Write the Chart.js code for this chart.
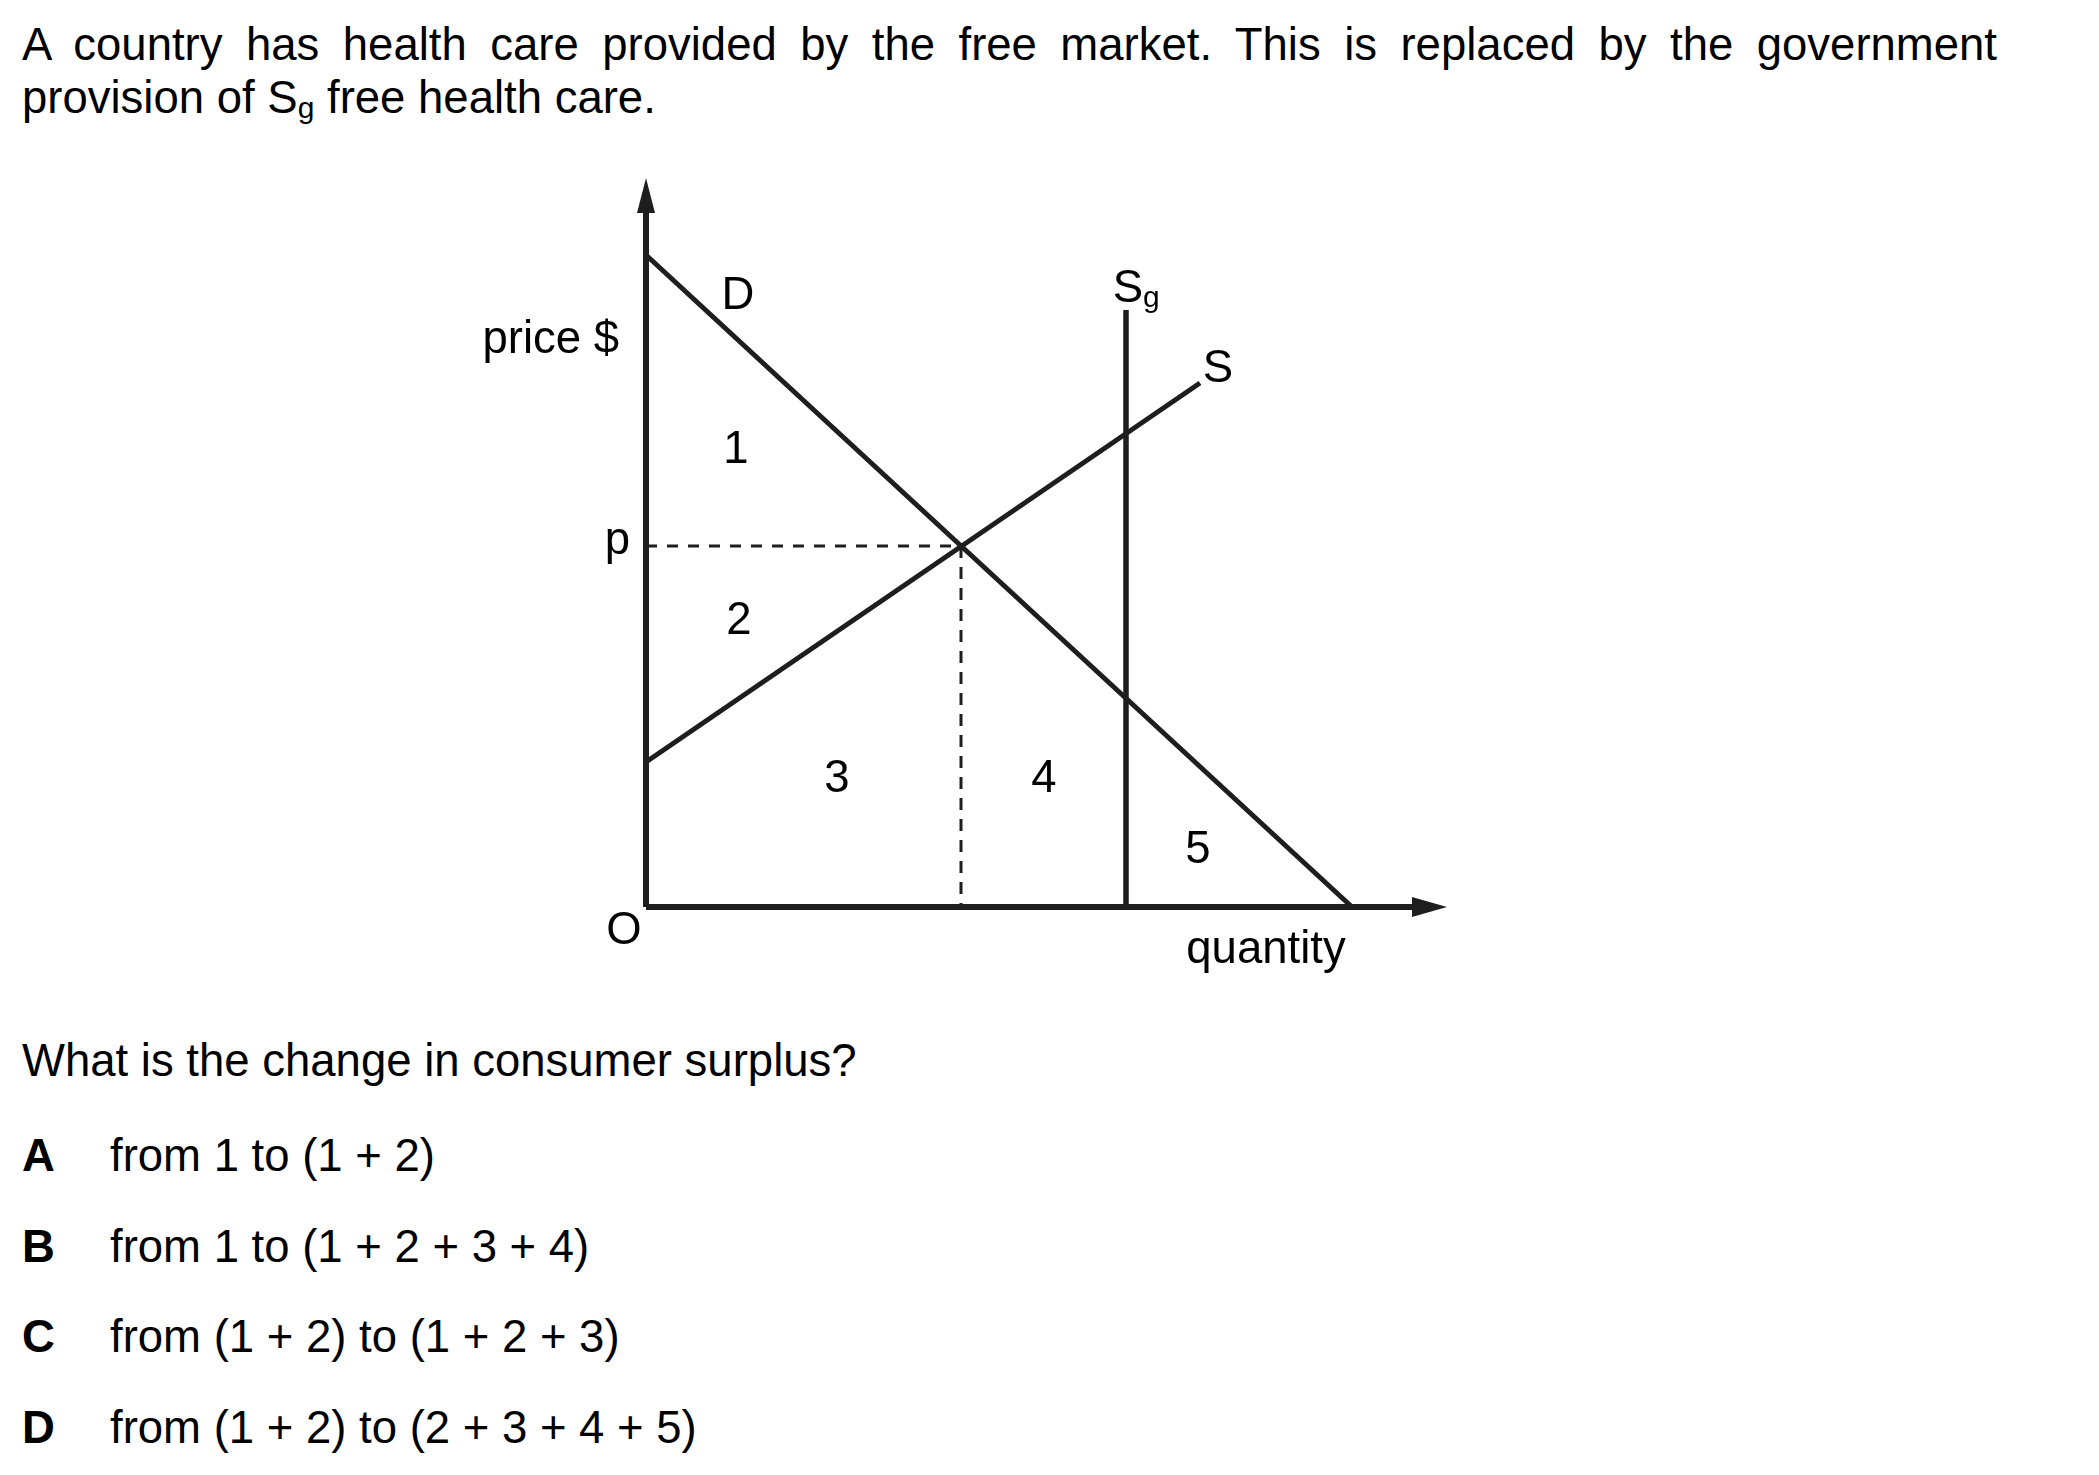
<!DOCTYPE html>
<html>
<head>
  <meta charset="UTF-8">
  <title>Consumer surplus with free health care</title>
  <script src="https://cdn.jsdelivr.net/npm/chart.js"></script>
  <style>
    body, html {
      margin: 0;
      padding: 0;
      background: #fff;
    }

    .page {
      position: relative;
      width: 2099px;
      height: 1475px;
      font-family: Arial, "Liberation Sans", Helvetica, sans-serif;
      font-size: 45.5px;
      line-height: 53px;
      color: #000;
    }

    .line {
      position: absolute;
      left: 22px;
      white-space: nowrap;
    }

    .justify {
      width: 1975px;
      text-align: justify;
      text-align-last: justify;
      white-space: normal;
    }

    .sub {
      font-size: 30px;
      position: relative;
      top: 5px;
    }

    .opt b {
      display: inline-block;
      width: 88px;
    }

    #chart-box {
      position: absolute;
      left: 440px;
      top: 150px;
      width: 1100px;
      height: 850px;
    }
  </style>
</head>
<body>
<div class="page">
  <div class="line justify" style="top:18px">A country has health care provided by the free market. This is replaced by the government</div>
  <div class="line" style="top:71px">provision of S<span class="sub">g</span> free health care.</div>

  <div id="chart-box">
    <canvas id="diagram"></canvas>
  </div>

  <div class="line" style="top:1034px">What is the change in consumer surplus?</div>
  <div class="line opt" style="top:1129px"><b>A</b>from 1 to (1 + 2)</div>
  <div class="line opt" style="top:1220px"><b>B</b>from 1 to (1 + 2 + 3 + 4)</div>
  <div class="line opt" style="top:1310px"><b>C</b>from (1 + 2) to (1 + 2 + 3)</div>
  <div class="line opt" style="top:1401px"><b>D</b>from (1 + 2) to (2 + 3 + 4 + 5)</div>
</div>

<script>
  // curve end points (quantity, price)
  const demandQ = [0, 70.6];
  const demandP = [65.2, 0];
  const supplyQ = [0, 55.4];
  const supplyP = [14.5, 52.4];
  const govQ = [48, 48];
  const govP = [0, 59.7];
  const eqQ = 31.5;
  const eqP = 36.1;
  const qAxisMax = 80.1;
  const pAxisMax = 72.9;

  // text labels, anchored in data units
  const labels = [
    { text: 'D', q: 9.2, p: 59.8 },
    { text: '1', q: 9.0, p: 44.4 },
    { text: '2', q: 9.3, p: 27.3 },
    { text: '3', q: 19.1, p: 11.5 },
    { text: '4', q: 39.8, p: 11.5 },
    { text: '5', q: 55.2, p: 4.4 },
    { text: 'S', q: 57.2, p: 52.5 },
    { text: 'O', q: -2.2, p: -3.7 },
    { text: 'quantity', q: 62.0, p: -5.6 },
    { text: 'p', q: -1.6, p: 35.3, align: 'right' },
    { text: 'price $', q: -2.7, p: 55.4, align: 'right' }
  ];

  const ink = '#1e1e1e';
  const font = '45.5px Arial, "Liberation Sans", sans-serif';

  function pts(qs, ps) {
    return qs.map((q, i) => ({ x: q, y: ps[i] }));
  }

  function line(data, width, dash) {
    return {
      data: data,
      showLine: true,
      borderColor: ink,
      borderWidth: width,
      borderDash: dash || [],
      pointRadius: 0,
      clip: false
    };
  }

  const extras = {
    id: 'extras',
    afterDatasetsDraw(chart) {
      const c = chart.ctx;
      const x = chart.scales.x;
      const y = chart.scales.y;
      const x0 = x.getPixelForValue(0);
      const y0 = y.getPixelForValue(0);

      c.save();
      c.fillStyle = ink;
      // arrow heads
      const yt = y.getPixelForValue(pAxisMax);
      c.beginPath();
      c.moveTo(x0, yt);
      c.lineTo(x0 - 9, yt + 35);
      c.lineTo(x0 + 9, yt + 35);
      c.closePath();
      c.fill();

      const xt = x.getPixelForValue(qAxisMax);
      c.beginPath();
      c.moveTo(xt, y0);
      c.lineTo(xt - 35, y0 - 10);
      c.lineTo(xt - 35, y0 + 10);
      c.closePath();
      c.fill();

      c.fillStyle = '#000';
      c.font = font;
      c.textBaseline = 'alphabetic';
      labels.forEach(l => {
        c.textAlign = l.align || 'center';
        c.fillText(l.text, x.getPixelForValue(l.q), y.getPixelForValue(l.p));
      });

      // S with subscript g
      const sx = x.getPixelForValue(48.2);
      const sy = y.getPixelForValue(60.5);
      c.textAlign = 'center';
      c.fillText('S', sx, sy);
      c.font = '30px Arial, "Liberation Sans", sans-serif';
      c.textAlign = 'left';
      c.fillText('g', sx + 15, sy + 5);
      c.restore();
    }
  };

  const ctx = document.getElementById('diagram').getContext('2d');
  new Chart(ctx, {
    type: 'scatter',
    data: {
      datasets: [
        line(pts([0, 0], [0, pAxisMax - 3]), 6),
        line(pts([0, qAxisMax - 3], [0, 0]), 6),
        line(pts(demandQ, demandP), 5),
        line(pts(supplyQ, supplyP), 5),
        line(pts(govQ, govP), 5.5),
        line(pts([0, eqQ], [eqP, eqP]), 3, [11, 10]),
        line(pts([eqQ, eqQ], [eqP, 0]), 3, [12, 9])
      ]
    },
    options: {
      responsive: true,
      maintainAspectRatio: false,
      animation: false,
      events: [],
      layout: { padding: { left: 206, right: 44, top: 7, bottom: 93 } },
      plugins: {
        legend: { display: false },
        tooltip: { enabled: false }
      },
      scales: {
        x: { type: 'linear', min: 0, max: 85, display: false },
        y: { type: 'linear', min: 0, max: 75, display: false }
      }
    },
    plugins: [extras]
  });
</script>
</body>
</html>
